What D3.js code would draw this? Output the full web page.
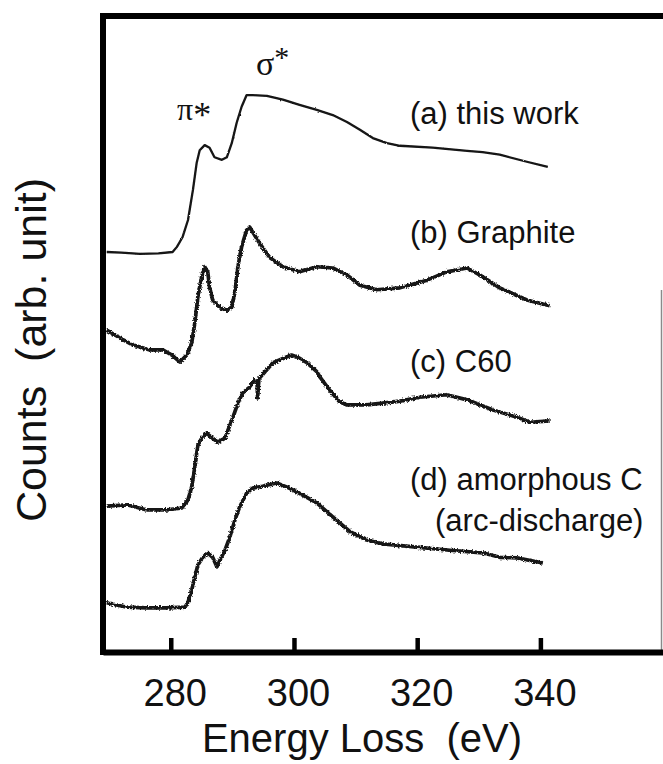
<!DOCTYPE html>
<html>
<head>
<meta charset="utf-8">
<script src="https://cdn.jsdelivr.net/npm/d3@7"></script>
<style>
  body { margin: 0; background: #fff; }
  svg { display: block; }
  .lbl { font-family: "Liberation Sans", Arial, sans-serif; fill: #111; white-space: pre; }
  .greek { font-family: "Liberation Serif", "DejaVu Serif", serif; fill: #111; }
</style>
</head>
<body>
<div id="chart"></div>
<script>
// energy loss values (eV) and counts (arb. unit, already offset for stacking)
const thisWorkE = [269.6, 272, 275, 278, 280.3, 281.0, 281.9, 282.8, 283.6, 284.2, 284.7, 285.5, 286.3, 287.1, 288.3, 289.1, 289.9, 290.7, 291.5, 292.3, 293.3, 295.6, 298.2, 300.9, 303.7, 306.3, 308.6, 310.7, 312.8, 315.1, 317.2, 322.5, 328.1, 330.6, 333.4, 337.8, 341.2];
const thisWorkCounts = [6.25, 6.24, 6.22, 6.23, 6.25, 6.33, 6.48, 6.75, 7.22, 7.64, 7.84, 7.92, 7.88, 7.73, 7.69, 7.73, 7.95, 8.27, 8.52, 8.70, 8.70, 8.69, 8.63, 8.55, 8.47, 8.39, 8.28, 8.16, 8.03, 7.95, 7.91, 7.88, 7.83, 7.81, 7.77, 7.66, 7.58];

const graphiteE = [269.6, 271.7, 273.8, 276.6, 278.7, 280.2, 281.5, 282.6, 283.4, 283.9, 284.4, 285.0, 285.5, 286.0, 286.3, 286.8, 288.0, 289.1, 289.9, 290.4, 290.9, 291.5, 292.3, 292.8, 293.3, 294.4, 296.1, 298.2, 300.9, 303.7, 306.3, 308.6, 310.7, 313.4, 317.2, 321.6, 324.8, 328.1, 330.2, 333.4, 337.8, 341.5];
const graphiteCounts = [5.03, 4.91, 4.80, 4.72, 4.72, 4.64, 4.53, 4.64, 4.83, 5.14, 5.55, 5.86, 6.02, 5.94, 5.70, 5.50, 5.38, 5.34, 5.39, 5.61, 6.02, 6.33, 6.59, 6.64, 6.56, 6.39, 6.16, 6.02, 5.94, 6.02, 6.00, 5.89, 5.73, 5.66, 5.69, 5.81, 5.94, 6.00, 5.89, 5.69, 5.50, 5.41];

const c60E = [269.6, 272.9, 276.1, 279.4, 281.8, 282.8, 283.4, 283.9, 284.4, 285.0, 285.8, 286.8, 287.6, 288.8, 289.3, 290.1, 290.9, 291.7, 292.8, 293.6, 294.0, 294.1, 294.3, 296.6, 298.8, 299.6, 300.5, 302.1, 303.7, 304.2, 305.8, 307.4, 308.6, 311.8, 314.4, 317.2, 320.4, 324.8, 328.1, 332.3, 336.2, 338.3, 341.5];
const c60Counts = [2.28, 2.30, 2.22, 2.22, 2.25, 2.38, 2.58, 2.89, 3.23, 3.34, 3.42, 3.34, 3.28, 3.34, 3.47, 3.67, 3.89, 4.05, 4.14, 4.25, 4.22, 3.97, 4.27, 4.52, 4.61, 4.64, 4.61, 4.52, 4.38, 4.30, 4.09, 3.91, 3.86, 3.86, 3.89, 3.92, 3.98, 4.02, 3.94, 3.78, 3.67, 3.59, 3.61];

const amorphousE = [269.6, 272.9, 276.1, 279.4, 282.3, 282.8, 283.4, 283.9, 284.4, 285.2, 286.0, 286.8, 287.5, 288.0, 288.8, 289.6, 290.4, 291.2, 292.3, 293.3, 294.9, 297.2, 298.8, 300.9, 303.7, 306.3, 309.1, 311.8, 314.4, 319.9, 325.3, 330.6, 333.4, 336.2, 340.4];
const amorphousCounts = [0.77, 0.70, 0.69, 0.69, 0.70, 0.78, 0.97, 1.17, 1.36, 1.48, 1.55, 1.48, 1.33, 1.44, 1.59, 1.80, 2.06, 2.27, 2.48, 2.56, 2.59, 2.64, 2.58, 2.48, 2.33, 2.11, 1.88, 1.75, 1.69, 1.64, 1.59, 1.55, 1.48, 1.47, 1.39];

const xTicks = [280, 300, 320, 340];
const curveLabels = ["(a) this work", "(b) Graphite", "(c) C60", "(d) amorphous C"];

const width = 663;
const height = 764;

const svg = d3.select("#chart").append("svg")
  .attr("width", width)
  .attr("height", height);

svg.append("rect").attr("width", width).attr("height", height).attr("fill", "#fff");

// scanned-print look for the noisy spectra
const defs = svg.append("defs");
const rough = defs.append("filter").attr("id", "rough")
  .attr("x", "-5%").attr("y", "-5%").attr("width", "110%").attr("height", "110%");
rough.append("feTurbulence").attr("type", "fractalNoise")
  .attr("baseFrequency", 0.6).attr("numOctaves", 2).attr("seed", 3).attr("result", "n");
rough.append("feDisplacementMap").attr("in", "SourceGraphic").attr("in2", "n")
  .attr("scale", 3.5).attr("xChannelSelector", "R").attr("yChannelSelector", "G");
const soft = defs.append("filter").attr("id", "soft")
  .attr("x", "-5%").attr("y", "-5%").attr("width", "110%").attr("height", "110%");
soft.append("feTurbulence").attr("type", "fractalNoise")
  .attr("baseFrequency", 0.35).attr("numOctaves", 1).attr("seed", 7).attr("result", "n");
soft.append("feDisplacementMap").attr("in", "SourceGraphic").attr("in2", "n")
  .attr("scale", 2).attr("xChannelSelector", "R").attr("yChannelSelector", "G");

const x = d3.scaleLinear().domain([269, 360]).range([103, 663.6]);
const y = d3.scaleLinear().domain([0, 10]).range([652, 12]);

const line = d3.line()
  .x(d => x(d[0]))
  .y(d => y(d[1]));

const series = [
  { e: thisWorkE, c: thisWorkCounts, w: 2.3, f: "soft" },
  { e: graphiteE, c: graphiteCounts, w: 3.7, f: "rough" },
  { e: c60E, c: c60Counts, w: 3.7, f: "rough" },
  { e: amorphousE, c: amorphousCounts, w: 3.7, f: "rough" }
];

series.forEach(s => {
  svg.append("path")
    .datum(s.e.map((v, i) => [v, s.c[i]]))
    .attr("fill", "none")
    .attr("stroke", "#141414")
    .attr("stroke-width", s.w)
    .attr("stroke-linejoin", "round")
    .attr("filter", `url(#${s.f})`)
    .attr("d", line);
});

// frame: top and left
svg.append("line")
  .attr("x1", x(269) - 3).attr("x2", width)
  .attr("y1", 16).attr("y2", 16)
  .attr("stroke", "#000").attr("stroke-width", 6);
svg.append("line")
  .attr("x1", x(269)).attr("x2", x(269))
  .attr("y1", 13).attr("y2", y(0) + 3)
  .attr("stroke", "#000").attr("stroke-width", 6);
// faint scan edge on the right
svg.append("line")
  .attr("x1", 661.5).attr("x2", 661.5)
  .attr("y1", 290).attr("y2", y(0))
  .attr("stroke", "#8a8a8a").attr("stroke-width", 1.5);

const xAxis = d3.axisBottom(x)
  .tickValues(xTicks)
  .tickSizeInner(-14)
  .tickSizeOuter(0)
  .tickPadding(27);

const gx = svg.append("g")
  .attr("transform", `translate(0,${y(0)})`)
  .call(xAxis);
gx.select(".domain").attr("stroke", "#000").attr("stroke-width", 6);
gx.selectAll(".tick line").attr("stroke", "#000").attr("stroke-width", 4.5);
gx.selectAll(".tick text")
  .attr("class", "lbl")
  .attr("dx", 4)
  .style("font-size", "38px")
  .attr("fill", "#111");

svg.append("text")
  .attr("class", "lbl")
  .attr("x", 362).attr("y", 752)
  .attr("text-anchor", "middle")
  .style("font-size", "40px")
  .text("Energy Loss  (eV)");

svg.append("text")
  .attr("class", "lbl")
  .attr("transform", "translate(46,350) rotate(-90)")
  .attr("text-anchor", "middle")
  .style("font-size", "43px")
  .text("Counts  (arb. unit)");

// curve labels
const labelY = [124, 243, 372, 490];
curveLabels.forEach((t, i) => {
  svg.append("text")
    .attr("class", "lbl")
    .attr("x", 410).attr("y", labelY[i])
    .style("font-size", "31px")
    .text(t);
});
svg.append("text")
  .attr("class", "lbl")
  .attr("x", 435).attr("y", 531)
  .style("font-size", "31px")
  .text("(arc-discharge)");

// peak labels
const sig = svg.append("text")
  .attr("class", "greek")
  .attr("x", 256).attr("y", 75)
  .style("font-size", "34px");
sig.append("tspan").text("σ");
sig.append("tspan").attr("dy", -8).style("font-size", "30px").text("*");

const pi = svg.append("text")
  .attr("class", "greek")
  .attr("x", 177).attr("y", 120)
  .style("font-size", "32px");
pi.append("tspan").text("π");
pi.append("tspan").attr("dy", 7).style("font-size", "36px").text("*");
</script>
</body>
</html>
